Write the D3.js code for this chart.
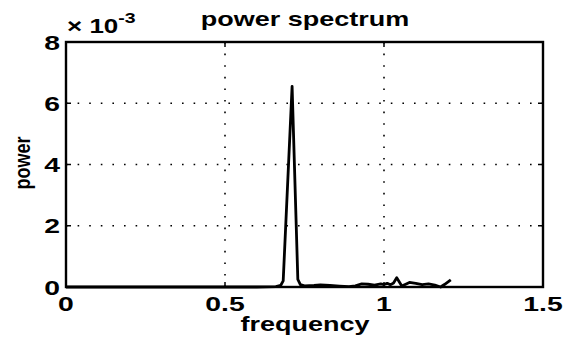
<!DOCTYPE html>
<html>
<head>
<meta charset="utf-8">
<script src="https://cdn.jsdelivr.net/npm/d3@7"></script>
<style>
  body { margin: 0; background: #fff; }
  text { font-family: "Liberation Sans", Arial, sans-serif; font-weight: bold; fill: #000; }
</style>
</head>
<body>
<div id="chart"></div>
<script>
// frequency samples
const freq = [0, 0.1, 0.2, 0.3, 0.4, 0.5, 0.6, 0.66, 0.675, 0.683, 0.711, 0.729, 0.737, 0.75,
  0.78, 0.80, 0.83, 0.86, 0.89, 0.91, 0.93, 0.95, 0.97, 0.99, 1.0, 1.01, 1.02, 1.03, 1.04,
  1.056, 1.07, 1.08, 1.10, 1.12, 1.14, 1.16, 1.178, 1.19, 1.21];
// power, in units of 1e-3
const power = [0, 0, 0, 0, 0, 0, 0, 0.01, 0.05, 0.2, 6.55, 0.25, 0.08, 0.04,
  0.05, 0.07, 0.05, 0.03, 0.01, 0.04, 0.1, 0.09, 0.06, 0.1, 0.08, 0.12, 0.07, 0.13, 0.3,
  0.03, 0.1, 0.15, 0.12, 0.08, 0.1, 0.06, 0.0, 0.08, 0.23];
const xTicks = [0, 0.5, 1, 1.5];
const xTickLabels = ["0", "0.5", "1", "1.5"];
const yTicks = [0, 2, 4, 6, 8];
const yTickLabels = ["0", "2", "4", "6", "8"];

const W = 577, H = 337;
const margin = {top: 42, right: 34, bottom: 50, left: 66};
const width = W - margin.left - margin.right;
const height = H - margin.top - margin.bottom;
const sx = 1.35; // the picture's lettering is stretched sideways

const svg = d3.select("#chart").append("svg")
  .attr("width", W).attr("height", H);

const x = d3.scaleLinear().domain([0, 1.5]).range([margin.left, margin.left + width]);
const y = d3.scaleLinear().domain([0, 8]).range([margin.top + height, margin.top]);

function label(px, py, str, anchor, size, stretch) {
  const g = svg.append("g").attr("transform", `translate(${px},${py}) scale(${stretch},1)`);
  return g.append("text").attr("text-anchor", anchor).attr("font-size", size).text(str);
}

// dotted grid
const grid = svg.append("g").attr("stroke", "#000").attr("stroke-width", 1.6)
  .attr("stroke-dasharray", "1.6,10");
grid.selectAll(".gx").data(xTicks.slice(1, -1)).join("line")
  .attr("x1", d => x(d)).attr("x2", d => x(d))
  .attr("y1", margin.top).attr("y2", margin.top + height);
grid.selectAll(".gy").data(yTicks.slice(1, -1)).join("line")
  .attr("y1", d => y(d)).attr("y2", d => y(d))
  .attr("x1", margin.left).attr("x2", margin.left + width);

// inward ticks on all sides
const ticks = svg.append("g").attr("stroke", "#000").attr("stroke-width", 1.5);
xTicks.forEach(t => {
  ticks.append("line").attr("x1", x(t)).attr("x2", x(t)).attr("y1", y(0)).attr("y2", y(0) - 5);
  ticks.append("line").attr("x1", x(t)).attr("x2", x(t)).attr("y1", y(8)).attr("y2", y(8) + 5);
});
yTicks.forEach(t => {
  ticks.append("line").attr("y1", y(t)).attr("y2", y(t)).attr("x1", x(0)).attr("x2", x(0) + 5);
  ticks.append("line").attr("y1", y(t)).attr("y2", y(t)).attr("x1", x(1.5)).attr("x2", x(1.5) - 5);
});

// spectrum line
const pts = freq.map((f, i) => [f, power[i]]);
svg.append("path").datum(pts)
  .attr("fill", "none").attr("stroke", "#000").attr("stroke-width", 2.8)
  .attr("stroke-linejoin", "round")
  .attr("d", d3.line().x(d => x(d[0])).y(d => y(d[1])));

// frame
svg.append("rect").attr("x", margin.left).attr("y", margin.top)
  .attr("width", width).attr("height", height)
  .attr("fill", "none").attr("stroke", "#000").attr("stroke-width", 2.4);

// tick labels
xTicks.forEach((t, i) => label(x(t), 311, xTickLabels[i], "middle", 21, sx));
yTicks.forEach((t, i) => label(60, y(t) + 7.5, yTickLabels[i], "end", 21, sx));

// exponent
const ex = label(67, 33, "", "start", 20, 1.3);
ex.append("tspan").text("× 10");
ex.append("tspan").attr("dy", -10).attr("font-size", 15).text("-3");

// titles
label(305, 26, "power spectrum", "middle", 20, sx);
label(305, 331, "frequency", "middle", 20, sx);
svg.append("g").attr("transform", `translate(30,163) scale(1.25,1) rotate(-90)`)
  .append("text").attr("text-anchor", "middle").attr("font-size", 18).text("power");
</script>
</body>
</html>
